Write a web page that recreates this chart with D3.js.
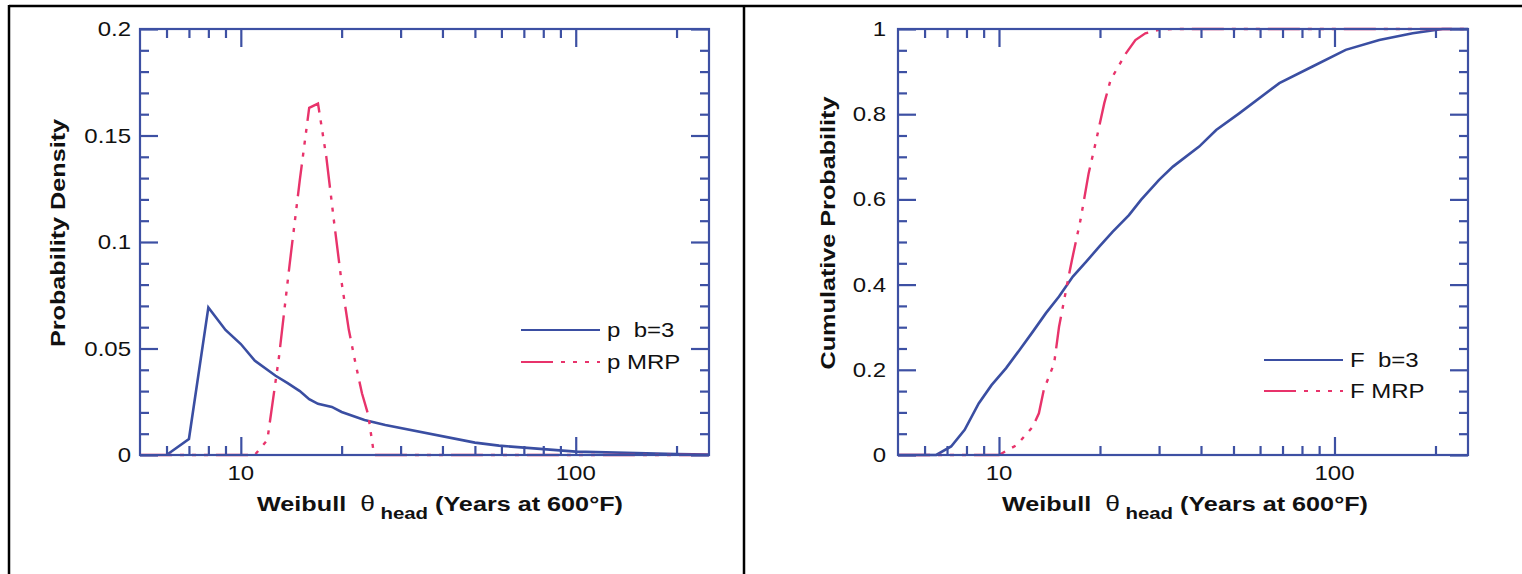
<!DOCTYPE html>
<html>
<head>
<meta charset="utf-8">
<script src="https://cdn.jsdelivr.net/npm/d3@7/dist/d3.min.js"></script>
<style>
  html, body { margin: 0; padding: 0; background: #fff; }
  svg { display: block; }
  text { font-family: "Liberation Sans", Arial, Helvetica, sans-serif; fill: #111; }
</style>
</head>
<body>
<svg id="chart" width="1522" height="574"></svg>
<script>
// ---------------- data ----------------
// Left panel: probability density
const pdfB3X  = [6, 7, 8, 9, 10, 11, 12.7, 13.8, 15, 16, 17, 18.7, 20, 23.4, 27, 50, 59, 100, 200, 250];
const pdfB3Y  = [0, 0.0075, 0.0693, 0.0587, 0.0521, 0.0443, 0.0372, 0.0337, 0.030, 0.0262, 0.0240, 0.0226, 0.0202, 0.0164, 0.0141, 0.0058, 0.0044, 0.0016, 0.0005, 0.0002];
const pdfMrpX = [5, 11, 12, 13, 14, 15, 16, 17, 18, 19, 20, 21, 22, 23, 24, 25, 250];
const pdfMrpY = [0, 0, 0.007, 0.046, 0.090, 0.129, 0.163, 0.165, 0.140, 0.109, 0.081, 0.059, 0.043, 0.029, 0.019, 0, 0];

// Right panel: cumulative probability
const cdfB3X  = [5, 6.5, 7.2, 7.9, 8.7, 9.5, 10.5, 11.5, 12.6, 13.8, 15.1, 16.6, 18.2, 19.9, 21.8, 24.4, 26.5, 30, 33, 39.5, 44.4, 52, 68.5, 86, 108, 136, 171, 210, 250];
const cdfB3Y  = [0, 0, 0.02, 0.059, 0.121, 0.164, 0.204, 0.246, 0.289, 0.333, 0.372, 0.419, 0.454, 0.489, 0.524, 0.563, 0.599, 0.646, 0.677, 0.724, 0.763, 0.802, 0.873, 0.912, 0.951, 0.974, 0.99, 1.0, 1.0];
const cdfMrpX = [5, 10, 11.3, 12.6, 13.15, 13.6, 14.6, 15.1, 16.2, 16.5, 17.5, 18.5, 19.4, 20.6, 21.5, 22.8, 23.9, 25.5, 27.3, 30, 33.5, 250];
const cdfMrpY = [0, 0, 0.0235, 0.066, 0.098, 0.153, 0.215, 0.301, 0.4265, 0.458, 0.552, 0.661, 0.732, 0.826, 0.88, 0.915, 0.943, 0.974, 0.99, 0.998, 1.0, 1.0];

// axes / ticks
const xDomain = [5, 250];
const xMajorTicks = [10, 100];
const xMinorTicks = [6, 7, 8, 9, 20, 30, 40, 50, 60, 70, 80, 90, 200];
const xTickLabels = ["10", "100"];

const yLeftDomain = [0, 0.2];
const yLeftMajor = [0, 0.05, 0.1, 0.15, 0.2];
const yLeftLabels = ["0", "0.05", "0.1", "0.15", "0.2"];
const yLeftMinor = [0.01, 0.02, 0.03, 0.04, 0.06, 0.07, 0.08, 0.09, 0.11, 0.12, 0.13, 0.14, 0.16, 0.17, 0.18, 0.19];

const yRightDomain = [0, 1];
const yRightMajor = [0, 0.2, 0.4, 0.6, 0.8, 1];
const yRightLabels = ["0", "0.2", "0.4", "0.6", "0.8", "1"];
const yRightMinor = [0.05, 0.1, 0.15, 0.25, 0.3, 0.35, 0.45, 0.5, 0.55, 0.65, 0.7, 0.75, 0.85, 0.9, 0.95];

const leftLegend = ["p  b=3", "p MRP"];
const rightLegend = ["F  b=3", "F MRP"];
const yLeftTitle = "Probability Density";
const yRightTitle = "Cumulative Probability";

// ---------------- styles ----------------
const AXIS = "#3d50a3";
const BLUE = "#3a4ea2";
const PINK = "#e8336b";
const DASH = "32,8,4,8,4,8,4,8";
const SX = 1.2; // horizontal text stretch of the original

const svg = d3.select("#chart");

// outer frame
svg.append("line").attr("x1", 9).attr("y1", 6).attr("x2", 1522).attr("y2", 6).attr("stroke", "#000").attr("stroke-width", 2.5);
svg.append("line").attr("x1", 9).attr("y1", 5).attr("x2", 9).attr("y2", 574).attr("stroke", "#000").attr("stroke-width", 2.5);
svg.append("line").attr("x1", 744).attr("y1", 5).attr("x2", 744).attr("y2", 574).attr("stroke", "#000").attr("stroke-width", 2.5);

function stretchedText(parent, x, y, str, opts) {
  const g = parent.append("g")
    .attr("transform", `translate(${x},${y})` + (opts.rotate ? ` rotate(${opts.rotate})` : "") + ` scale(${SX},1)`);
  const t = g.append("text")
    .attr("x", 0).attr("y", 0)
    .attr("text-anchor", opts.anchor || "start")
    .style("font-size", (opts.size || 20) + "px")
    .style("font-weight", opts.bold ? "bold" : "normal")
    .style("white-space", "pre")
    .text(str);
  return t;
}

function panel(cfg) {
  const x = d3.scaleLog().domain(xDomain).range([cfg.x0, cfg.x1]);
  const y = d3.scaleLinear().domain(cfg.yDomain).range([cfg.y1, cfg.y0]);
  const g = svg.append("g");

  const clipId = "clip" + cfg.id;
  g.append("clipPath").attr("id", clipId).append("rect")
    .attr("x", cfg.x0).attr("y", cfg.y0 - 2).attr("width", cfg.x1 - cfg.x0).attr("height", cfg.y1 - cfg.y0 + 4);

  const line = d3.line().x(d => x(d[0])).y(d => y(d[1]));

  // series
  cfg.series.forEach(s => {
    const pts = s.xs.map((v, i) => [v, s.ys[i]]);
    g.append("path").datum(pts)
      .attr("d", line)
      .attr("fill", "none")
      .attr("stroke", s.color)
      .attr("stroke-width", s.width)
      .attr("stroke-dasharray", s.dash || null)
      .attr("stroke-linejoin", "miter")
      .attr("clip-path", `url(#${clipId})`);
  });

  // axes (ticks pointing inward)
  const MAJ = 18, MIN = 9;
  const ax = (axisFn, scale, vals, size, tx, ty) => {
    g.append("g").attr("transform", `translate(${tx},${ty})`)
      .call(axisFn(scale).tickValues(vals).tickSize(-size).tickFormat(""))
      .call(a => a.select(".domain").remove())
      .call(a => a.selectAll("line").attr("stroke", AXIS).attr("stroke-width", 2.2));
  };
  ax(d3.axisBottom, x, xMajorTicks, MAJ, 0, cfg.y1);
  ax(d3.axisBottom, x, xMinorTicks, MIN, 0, cfg.y1);
  ax(d3.axisTop, x, xMajorTicks, MAJ, 0, cfg.y0);
  ax(d3.axisTop, x, xMinorTicks, MIN, 0, cfg.y0);
  ax(d3.axisLeft, y, cfg.yMajor, MAJ, cfg.x0, 0);
  ax(d3.axisLeft, y, cfg.yMinor, MIN, cfg.x0, 0);
  ax(d3.axisRight, y, cfg.yMajor, MAJ, cfg.x1, 0);
  ax(d3.axisRight, y, cfg.yMinor, MIN, cfg.x1, 0);

  g.append("rect").attr("x", cfg.x0).attr("y", cfg.y0)
    .attr("width", cfg.x1 - cfg.x0).attr("height", cfg.y1 - cfg.y0)
    .attr("fill", "none").attr("stroke", AXIS).attr("stroke-width", 2.2);

  // tick labels
  cfg.yMajor.forEach((v, i) => {
    stretchedText(g, cfg.x0 - cfg.yLabelGap, y(v) + 7, cfg.yLabels[i], { anchor: "end" });
  });
  xMajorTicks.forEach((v, i) => {
    stretchedText(g, x(v), cfg.y1 + 25, xTickLabels[i], { anchor: "middle" });
  });

  // axis titles
  const xt = g.append("g").attr("transform", `translate(${cfg.xTitleX},${cfg.y1 + 56}) scale(${SX},1)`)
    .append("text").attr("text-anchor", "middle")
    .style("font-size", "21px").style("font-weight", "bold");
  xt.append("tspan").text("Weibull  ").style("white-space", "pre");
  xt.append("tspan").text("θ").style("font-weight", "normal").style("font-size", "22px");
  xt.append("tspan").text(" head").attr("dy", 8).style("font-size", "17px").style("white-space", "pre");
  xt.append("tspan").text(" (Years at 600°F)").attr("dy", -8).style("white-space", "pre");

  stretchedText(g, cfg.yTitleX, 233, cfg.yTitle, { anchor: "middle", rotate: -90, bold: true, size: 21 });

  // legend
  cfg.series.forEach((s, i) => {
    const ly = cfg.legY + i * cfg.legDy;
    g.append("line").attr("x1", cfg.legX).attr("x2", cfg.legX + 79)
      .attr("y1", ly).attr("y2", ly)
      .attr("stroke", s.color).attr("stroke-width", s.width - 0.4)
      .attr("stroke-dasharray", s.dash || null);
    stretchedText(g, cfg.legX + 86, ly + 7, cfg.legend[i], {});
  });
}

panel({
  id: "L", x0: 140, x1: 709, y0: 29, y1: 455,
  yDomain: yLeftDomain, yMajor: yLeftMajor, yMinor: yLeftMinor, yLabels: yLeftLabels,
  yLabelGap: 9, yTitle: yLeftTitle, yTitleX: 65, xTitleX: 440,
  legX: 521, legY: 330, legDy: 32, legend: leftLegend,
  series: [
    { xs: pdfB3X, ys: pdfB3Y, color: BLUE, width: 2.6 },
    { xs: pdfMrpX, ys: pdfMrpY, color: PINK, width: 2.4, dash: DASH }
  ]
});

panel({
  id: "R", x0: 898, x1: 1468, y0: 29, y1: 455,
  yDomain: yRightDomain, yMajor: yRightMajor, yMinor: yRightMinor, yLabels: yRightLabels,
  yLabelGap: 12, yTitle: yRightTitle, yTitleX: 835, xTitleX: 1185,
  legX: 1264, legY: 360, legDy: 31, legend: rightLegend,
  series: [
    { xs: cdfB3X, ys: cdfB3Y, color: BLUE, width: 2.6 },
    { xs: cdfMrpX, ys: cdfMrpY, color: PINK, width: 2.4, dash: DASH }
  ]
});
</script>
</body>
</html>
